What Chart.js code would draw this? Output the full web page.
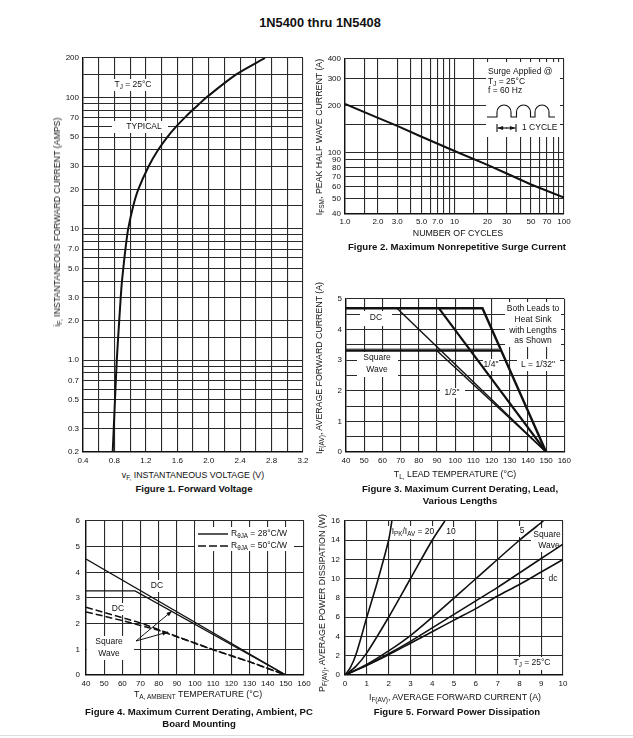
<!DOCTYPE html>
<html>
<head>
<meta charset="utf-8">
<script src="https://cdn.jsdelivr.net/npm/chart.js@4.4.1/dist/chart.umd.min.js"></script>
<style>
  html, body { margin: 0; padding: 0; background: #fff; }
  body { width: 633px; height: 738px; position: relative; overflow: hidden;
         font-family: "Liberation Sans", Arial, Helvetica, sans-serif; color: #111; }
  canvas { position: absolute; }
  .t { position: absolute; white-space: nowrap; font-size: 8.8px; line-height: 10px;
       transform: translate(-50%, -50%); z-index: 2; }
  .rot { transform: translate(-50%, -50%) rotate(-90deg); }
  .cap { font-weight: bold; font-size: 9.6px; line-height: 12px; text-align: center; }
  sub { font-size: 6.5px; vertical-align: -2px; line-height: 0; }
  #title { font-weight: bold; font-size: 12.8px; }
  #rule { position: absolute; left: 0; top: 735px; width: 633px; height: 1px; background: #ddd; }
</style>
</head>
<body>
<div class="t" id="title" style="left:320px;top:23px">1N5400 thru 1N5408</div>

<div class="t rot" style="left:57px;top:222px">i<sub>F,</sub> INSTANTANEOUS FORWARD CURRENT (AMPS)</div>
<div class="t" style="left:193px;top:475px">v<sub>F,</sub> INSTANTANEOUS VOLTAGE (V)</div>
<div class="t cap" style="left:194px;top:489px">Figure 1. Forward Voltage</div>

<div class="t rot" style="left:319px;top:137px">I<sub>FSM</sub>, PEAK HALF WAVE CURRENT (A)</div>
<div class="t" style="left:458px;top:233px">NUMBER OF CYCLES</div>
<div class="t cap" style="left:457px;top:247px">Figure 2. Maximum Nonrepetitive Surge Current</div>

<div class="t rot" style="left:319px;top:368px">I<sub>F(AV)</sub>, AVERAGE FORWARD CURRENT (A)</div>
<div class="t" style="left:455px;top:474px">T<sub>L,</sub> LEAD TEMPERATURE (°C)</div>
<div class="t cap" style="left:460px;top:495px">Figure 3. Maximum Current Derating, Lead,<br>Various Lengths</div>

<div class="t" style="left:198px;top:694px">T<sub>A, AMBIENT</sub> TEMPERATURE (°C)</div>
<div class="t cap" style="left:199px;top:718px">Figure 4. Maximum Current Derating, Ambient, PC<br>Board Mounting</div>

<div class="t rot" style="left:322px;top:603px">P<sub>F(AV)</sub>, AVERAGE POWER DISSIPATION (W)</div>
<div class="t" style="left:455px;top:697px">I<sub>F(AV)</sub>, AVERAGE FORWARD CURRENT (A)</div>
<div class="t cap" style="left:457px;top:712px">Figure 5. Forward Power Dissipation</div>

<div id="rule"></div>

<script>
(function () {
    'use strict';

    var FONT = '"Liberation Sans", Arial, Helvetica, sans-serif';
    var INK = '#111';
    var GRID = '#2a2a2a';
    var NOTE = 8.5;

    // ---- Figure 1: forward voltage (typical, TJ = 25C)
    var fig1Volts = [0.778, 0.791, 0.807, 0.83, 0.861, 0.88, 0.896, 0.913, 0.94, 0.975, 1.04, 1.104, 1.236, 1.357, 1.473, 1.585, 1.692, 1.791, 1.884, 1.969, 2.351, 2.716];
    var fig1Amps = [0.2, 0.3, 0.5, 1, 2, 3, 4, 5, 7, 10, 15, 20, 30, 40, 50, 60, 70, 80, 90, 100, 150, 200];
    var fig1YGrid = [200, 150, 100, 90, 80, 70, 60, 50, 40, 30, 20, 15, 10, 9, 8, 7, 6, 5, 4, 3, 2, 1.5, 1, 0.9, 0.8, 0.7, 0.6, 0.5, 0.4, 0.3, 0.2];
    var fig1YTicks = [200, 100, 70, 50, 30, 20, 10, 7, 5, 3, 2, 1, 0.7, 0.5, 0.3, 0.2];
    var fig1YLabels = ['200', '100', '70', '50', '30', '20', '10', '7.0', '5.0', '3.0', '2.0', '1.0', '0.7', '0.5', '0.3', '0.2'];

    // ---- Figure 2: surge current vs number of cycles
    var fig2Cycles = [1, 2, 3, 5, 10, 20, 30, 50, 100];
    var fig2Amps = [205, 167, 148, 126, 102, 83, 73, 62, 51];
    var fig2XGrid = [1, 1.5, 2, 3, 4, 5, 6, 7, 8, 9, 10, 15, 20, 30, 40, 50, 60, 70, 80, 90, 100];
    var fig2XTicks = [1, 2, 3, 5, 7, 10, 20, 30, 50, 70, 100];
    var fig2XLabels = ['1.0', '2.0', '3.0', '5.0', '7.0', '10', '20', '30', '50', '70', '100'];
    var fig2YGrid = [400, 300, 200, 150, 100, 90, 80, 70, 60, 50, 40];
    var fig2YTicks = [400, 300, 200, 100, 90, 80, 70, 60, 50, 40];

    // ---- Figure 3: derating vs lead temperature, [degC, A]
    var fig3Dc32 = [[40, 4.7], [115, 4.7], [150, 0]];
    var fig3DcQuarter = [[91, 4.7], [150, 0]];
    var fig3DcHalf = [[68, 4.7], [150, 0]];
    var fig3SqTop = [[40, 3.36], [124, 3.36]];
    var fig3SqFlat = [[40, 3.31], [125.3, 3.31]];
    var fig3SqHalf = [[90, 3.31], [150, 0]];

    // ---- Figure 4: derating vs ambient, [degC, A]
    var fig4Dc28 = [[40, 4.52], [150, 0]];
    var fig4Sq28 = [[40, 3.28], [67, 3.28], [150, 0]];
    var fig4Dc50 = [[40, 2.64], [70, 2.03], [90, 1.5], [110, 0.99], [130, 0.52], [150, 0]];
    var fig4Sq50 = [[40, 2.46], [60, 2.12], [80, 1.74], [90, 1.49], [110, 0.98], [130, 0.51], [150, 0]];

    // ---- Figure 5: power dissipation vs average current, [A, W]
    var fig5Ratio20 = [[0, 0], [0.25, 0.8], [0.5, 2.1], [1, 6], [1.5, 9.8], [2, 14], [2.15, 16]];
    var fig5Ratio10 = [[0, 0], [0.5, 0.9], [1, 2.3], [2, 6], [3, 10], [4, 14], [4.58, 16]];
    var fig5Ratio5 = [[0, 0], [1, 1.1], [2, 2.5], [3, 4.1], [4, 6], [6, 10], [8, 14], [9.1, 16]];
    var fig5Square = [[0, 0], [1, 1], [2, 2.2], [3, 3.5], [4, 4.9], [5, 6.3], [6, 7.7], [7, 9.1], [8, 10.6], [9, 12.1], [10, 13.6]];
    var fig5Dc = [[0, 0], [1, 1], [2, 2.1], [3, 3.3], [4, 4.5], [5, 5.7], [6, 6.9], [7, 8.2], [8, 9.4], [9, 10.7], [10, 12]];

    ////////////////////////////////////////////

    function xy(xs, ys) {
        return xs.map(function (x, i) { return {x: x, y: ys[i]}; });
    }

    function pairs(list) {
        return list.map(function (p) { return {x: p[0], y: p[1]}; });
    }

    function lookup(ticks, labels, v) {
        for (var i = 0; i < ticks.length; i++) {
            if (Math.abs(ticks[i] - v) < ticks[i] * 1e-6) return labels ? labels[i] : String(ticks[i]);
        }
        return '';
    }

    function series(data, width, dash, tension) {
        return {
            data: data,
            borderColor: INK,
            borderWidth: width,
            borderDash: dash || [],
            pointRadius: 0,
            fill: false,
            tension: tension || 0
        };
    }

    function axis(o) {
        var s = {
            type: o.type || 'linear',
            min: o.min,
            max: o.max,
            grid: {color: GRID, lineWidth: 1.1, drawTicks: false},
            border: {color: INK, width: 1.4},
            ticks: {
                color: INK,
                font: {family: FONT, size: 8},
                padding: o.pad,
                autoSkip: false,
                maxRotation: 0,
                callback: o.label
            },
            afterFit: function (scale) {
                if (o.width) scale.width = o.width;
                if (o.height) scale.height = o.height;
            }
        };
        if (o.step) s.ticks.stepSize = o.step;
        if (o.grid) {
            s.afterBuildTicks = function (scale) {
                scale.ticks = o.grid.map(function (v) { return {value: v}; });
            };
        }
        return s;
    }

    function rich(ctx, parts, x, y, align) {
        var w = 0;
        parts.forEach(function (p) {
            ctx.font = (p[1] ? 6.3 : NOTE) + 'px ' + FONT;
            w += ctx.measureText(p[0]).width;
        });
        var cx = align === 'left' ? x : x - w / 2;
        ctx.fillStyle = INK;
        ctx.textAlign = 'left';
        ctx.textBaseline = 'middle';
        parts.forEach(function (p) {
            ctx.font = (p[1] ? 6.3 : NOTE) + 'px ' + FONT;
            ctx.fillText(p[0], cx, p[1] ? y + 2 : y);
            cx += ctx.measureText(p[0]).width;
        });
    }

    function arrow(ctx, x0, y0, x1, y1) {
        var a = Math.atan2(y1 - y0, x1 - x0);
        ctx.beginPath();
        ctx.moveTo(x0, y0);
        ctx.lineTo(x1, y1);
        ctx.stroke();
        ctx.beginPath();
        ctx.moveTo(x1, y1);
        ctx.lineTo(x1 - 6 * Math.cos(a - 0.35), y1 - 6 * Math.sin(a - 0.35));
        ctx.lineTo(x1 - 6 * Math.cos(a + 0.35), y1 - 6 * Math.sin(a + 0.35));
        ctx.closePath();
        ctx.fill();
    }

    // one canvas per figure; notes are given in page coordinates
    function plot(cfg) {
        var c = document.createElement('canvas');
        c.width = cfg.box[2];
        c.height = cfg.box[3];
        c.style.left = cfg.box[0] + 'px';
        c.style.top = cfg.box[1] + 'px';
        c.style.width = cfg.box[2] + 'px';
        c.style.height = cfg.box[3] + 'px';
        document.body.appendChild(c);

        var notes = {
            id: 'notes',
            beforeDatasetsDraw: function (chart) {
                var ctx = chart.ctx;
                ctx.save();
                ctx.translate(-cfg.box[0], -cfg.box[1]);
                ctx.fillStyle = '#fff';
                (cfg.blanks || []).forEach(function (b) {
                    ctx.fillRect(b[0], b[1], b[2] - b[0], b[3] - b[1]);
                });
                ctx.restore();
            },
            afterDatasetsDraw: function (chart) {
                var ctx = chart.ctx;
                ctx.save();
                ctx.translate(-cfg.box[0], -cfg.box[1]);
                (cfg.texts || []).forEach(function (t) {
                    rich(ctx, t[2], t[0], t[1], t[3]);
                });
                if (cfg.extra) cfg.extra(ctx);
                ctx.restore();
            }
        };

        return new Chart(c.getContext('2d'), {
            type: 'line',
            data: {datasets: cfg.datasets},
            options: {
                responsive: false,
                animation: false,
                events: [],
                layout: {padding: {left: 0, top: cfg.pad[0], right: cfg.pad[1], bottom: cfg.pad[2]}},
                plugins: {legend: {display: false}, tooltip: {enabled: false}},
                scales: {x: cfg.x, y: cfg.y}
            },
            plugins: [notes]
        });
    }

    // Figure 1
    plot({
        box: [30, 45, 285, 425],
        pad: [13, 12, 2],
        x: axis({min: 0.4, max: 3.2, step: 0.2, height: 16, pad: 4, label: function (v) {
            var k = Math.round(v * 10);
            return k % 4 === 0 ? (k / 10).toFixed(1) : '';
        }}),
        y: axis({type: 'logarithmic', min: 0.2, max: 200, width: 53, pad: 4, grid: fig1YGrid, label: function (v) {
            return lookup(fig1YTicks, fig1YLabels, v);
        }}),
        datasets: [series(xy(fig1Volts, fig1Amps), 2, null, 0.3)],
        blanks: [[109, 79, 158, 91], [112, 121, 168, 133]],
        texts: [
            [133, 85, [['T'], ['J', 1], [' = 25°C']]],
            [144, 127, [['TYPICAL']]]
        ]
    });

    // Figure 2
    plot({
        box: [300, 50, 275, 180],
        pad: [9, 11, 2],
        x: axis({type: 'logarithmic', min: 1, max: 100, height: 14, pad: 3, grid: fig2XGrid, label: function (v) {
            return lookup(fig2XTicks, fig2XLabels, v);
        }}),
        y: axis({type: 'logarithmic', min: 40, max: 400, width: 45, pad: 4, grid: fig2YGrid, label: function (v) {
            return lookup(fig2YTicks, null, v);
        }}),
        datasets: [series(xy(fig2Cycles, fig2Amps), 2)],
        blanks: [[486, 62, 560, 137]],
        texts: [
            [488, 72, [['Surge Applied @']], 'left'],
            [488, 82, [['T'], ['J', 1], [' = 25°C']], 'left'],
            [488, 91, [['f = 60 Hz']], 'left'],
            [522, 128, [['1 CYCLE']], 'left']
        ],
        extra: function (ctx) {
            var base = 117, r = 7;
            ctx.strokeStyle = INK;
            ctx.fillStyle = INK;
            ctx.lineWidth = 1.1;
            ctx.beginPath();
            ctx.moveTo(487, base);
            [497, 516.5, 535].forEach(function (x0) {
                ctx.lineTo(x0, base);
                ctx.lineTo(x0, base - 5);
                ctx.arc(x0 + r, base - 5, r, Math.PI, 0);
                ctx.lineTo(x0 + 2 * r, base);
            });
            ctx.lineTo(555, base);
            ctx.stroke();
            ctx.beginPath();
            ctx.moveTo(497, 124); ctx.lineTo(497, 132);
            ctx.moveTo(516, 124); ctx.lineTo(516, 132);
            ctx.stroke();
            arrow(ctx, 507, 128, 497.5, 128);
            arrow(ctx, 506, 128, 515.5, 128);
        }
    });

    // Figure 3
    plot({
        box: [300, 290, 275, 180],
        pad: [9, 9, 2],
        x: axis({min: 40, max: 160, step: 10, height: 16, pad: 4}),
        y: axis({min: 0, max: 5, step: 0.5, width: 46, pad: 4, label: function (v) {
            return v % 1 === 0 ? String(v) : '';
        }}),
        datasets: [
            series(pairs(fig3Dc32), 2.4),
            series(pairs(fig3DcQuarter), 2.2),
            series(pairs(fig3DcHalf), 1.4),
            series(pairs(fig3SqTop), 1),
            series(pairs(fig3SqFlat), 2),
            series(pairs(fig3SqHalf), 1.4)
        ],
        blanks: [[360, 311, 392, 326], [357, 352, 398, 377], [505, 302, 561, 347],
                 [517, 359, 560, 371], [483, 359, 499, 371], [440, 388, 465, 398]],
        texts: [
            [376, 318, [['DC']]],
            [377, 358, [['Square']]],
            [377, 370, [['Wave']]],
            [533, 309, [['Both Leads to']]],
            [533, 320, [['Heat Sink']]],
            [533, 331, [['with Lengths']]],
            [533, 341, [['as Shown']]],
            [538, 365, [['L = 1/32"']]],
            [491, 365, [['1/4"']]],
            [452, 393, [['1/2"']]]
        ]
    });

    // Figure 4
    plot({
        box: [40, 510, 275, 185],
        pad: [11, 11, 4],
        x: axis({min: 40, max: 160, step: 10, height: 16, pad: 4}),
        y: axis({min: 0, max: 6, step: 1, width: 46, pad: 6}),
        datasets: [
            series(pairs(fig4Dc28), 1.3),
            series(pairs(fig4Sq28), 1.3),
            series(pairs(fig4Dc50), 1.5, [7, 3]),
            series(pairs(fig4Sq50), 1.5, [7, 3])
        ],
        blanks: [[195, 527, 294, 551], [148, 580, 166, 592], [109, 603, 128, 615], [87, 636, 134, 660]],
        texts: [
            [231, 534, [['R'], ['θJA', 1], [' = 28°C/W']], 'left'],
            [231, 546, [['R'], ['θJA', 1], [' = 50°C/W']], 'left'],
            [157, 586, [['DC']]],
            [118, 609, [['DC']]],
            [109, 642, [['Square']]],
            [109, 654, [['Wave']]]
        ],
        extra: function (ctx) {
            ctx.strokeStyle = INK;
            ctx.fillStyle = INK;
            ctx.lineWidth = 1.4;
            ctx.beginPath();
            ctx.moveTo(198, 534); ctx.lineTo(228, 534);
            ctx.stroke();
            ctx.setLineDash([8, 3]);
            ctx.beginPath();
            ctx.moveTo(198, 546); ctx.lineTo(228, 546);
            ctx.stroke();
            ctx.setLineDash([]);
            ctx.lineWidth = 1;
            arrow(ctx, 136, 641, 172, 611);
            arrow(ctx, 136, 641, 168, 632);
        }
    });

    // Figure 5
    plot({
        box: [300, 510, 275, 185],
        pad: [11, 12, 4],
        x: axis({min: 0, max: 10, step: 1, height: 16, pad: 4}),
        y: axis({min: 0, max: 16, step: 2, width: 45, pad: 5}),
        datasets: [
            series(pairs(fig5Ratio20), 1.6, null, 0.3),
            series(pairs(fig5Ratio10), 1.6, null, 0.3),
            series(pairs(fig5Ratio5), 1.6, null, 0.3),
            series(pairs(fig5Square), 1.6, null, 0.3),
            series(pairs(fig5Dc), 1.6, null, 0.3)
        ],
        blanks: [[388, 526, 439, 539], [444, 527, 459, 539], [517, 526, 527, 537],
                 [531, 528, 562, 552], [544, 573, 562, 585], [509, 657, 555, 670]],
        texts: [
            [413, 532, [['I'], ['PK', 1], ['/I'], ['AV', 1], [' = 20']]],
            [451, 532, [['10']]],
            [522, 531, [['5']]],
            [547, 535, [['Square']]],
            [549, 546, [['Wave']]],
            [553, 579, [['dc']]],
            [532, 663, [['T'], ['J', 1], [' = 25°C']]]
        ]
    });

})();
</script>
</body>
</html>
